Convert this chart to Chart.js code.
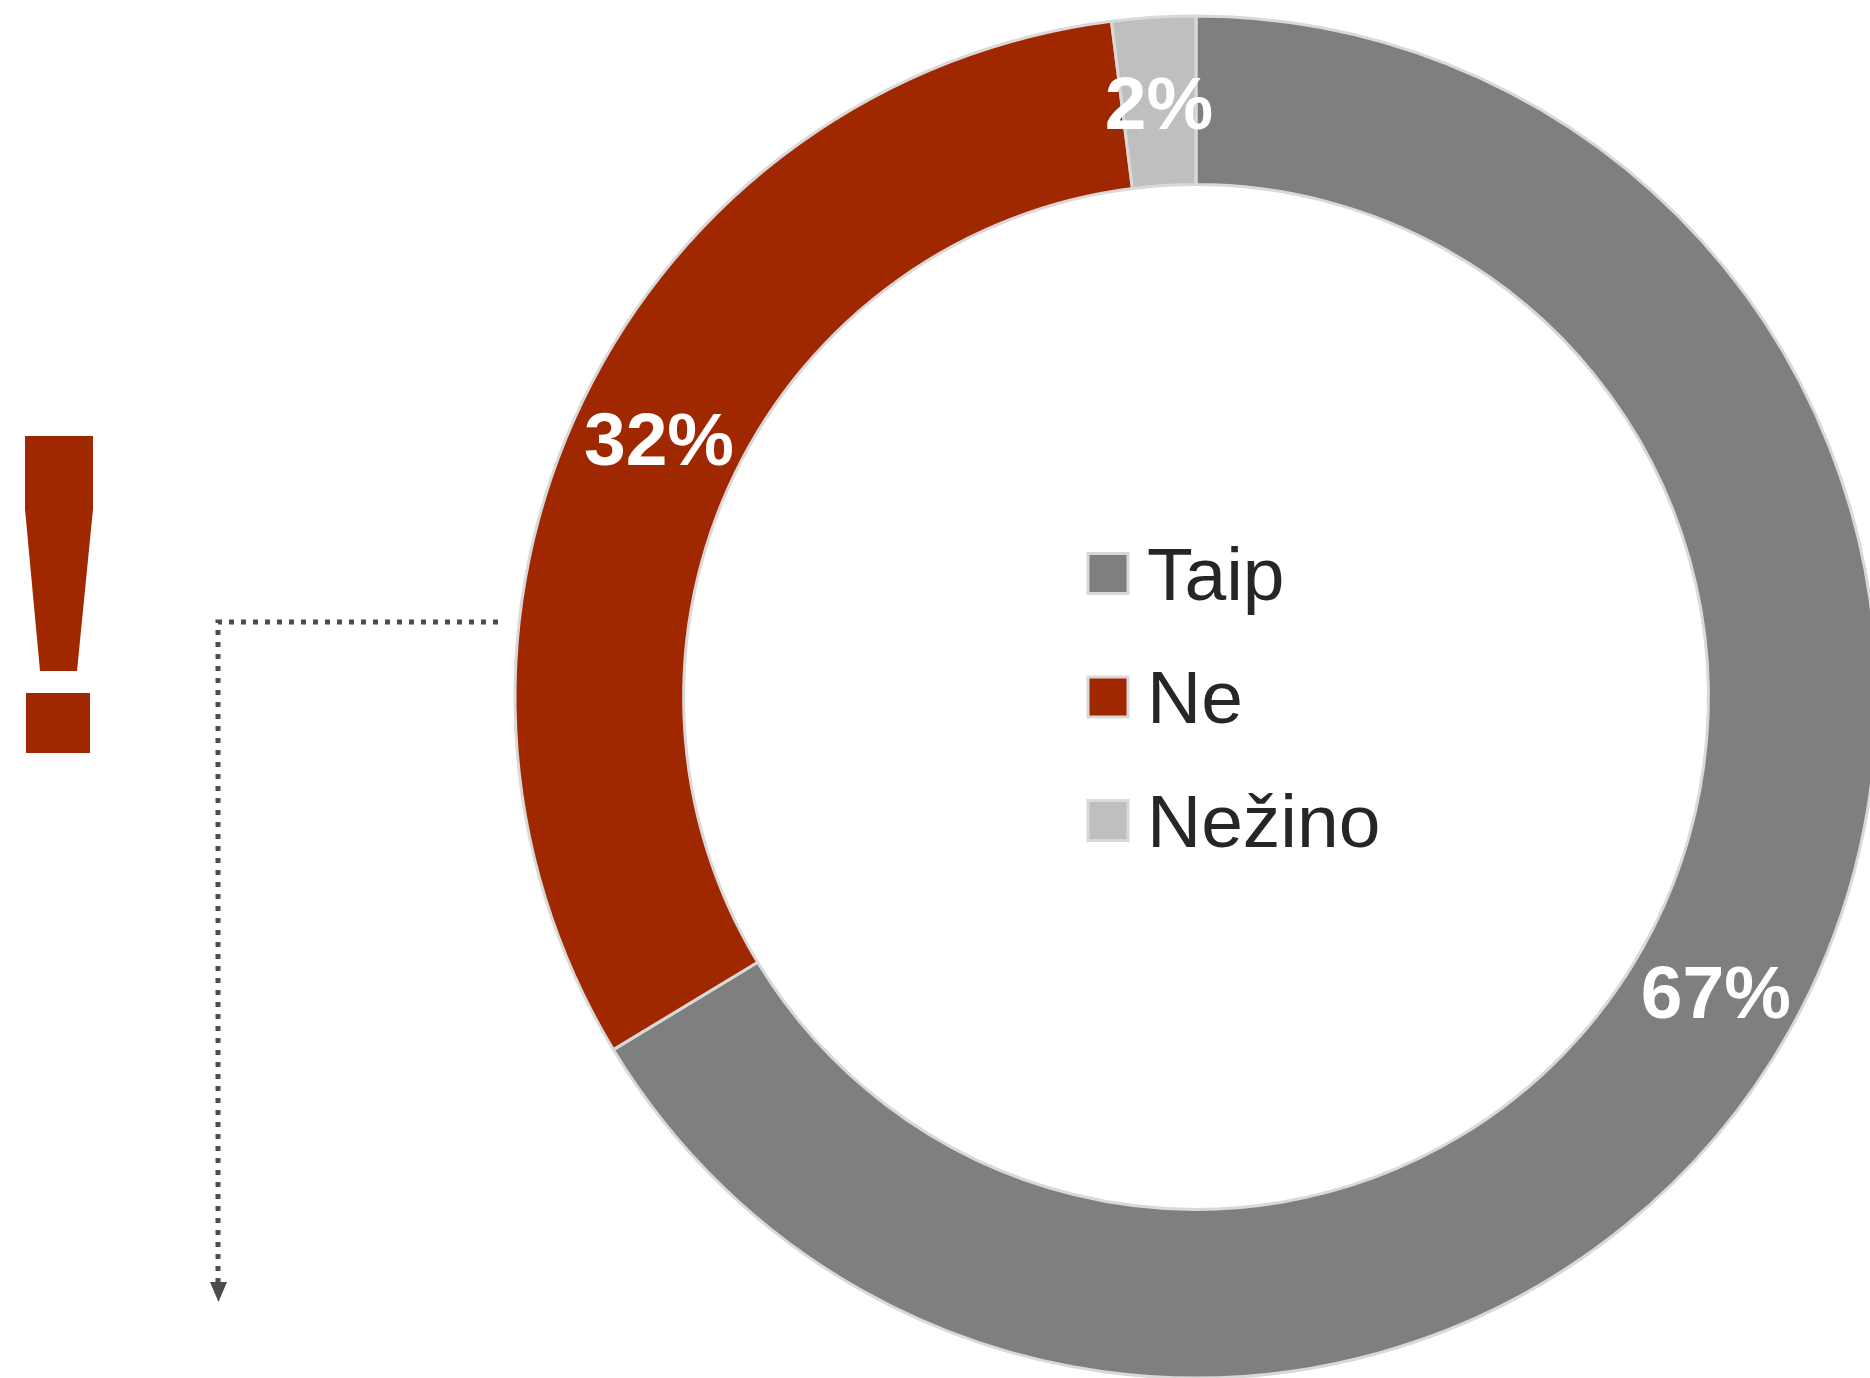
<!DOCTYPE html>
<html>
<head>
<meta charset="utf-8">
<script src="https://cdn.jsdelivr.net/npm/chart.js@4/dist/chart.umd.min.js"></script>
<style>
  html, body { margin: 0; padding: 0; background: #fff; overflow: hidden; }
  #wrap { width: 1900px; height: 1400px; }
</style>
</head>
<body>
<div id="wrap"><canvas id="chartAnswers" width="1900" height="1400"></canvas></div>
<script>
// data
const labels = ['Taip', 'Ne', 'Nežino'];
const values = [67, 32, 2];
const colors = ['#7f7f7f', '#a02800', '#bfbfbf'];

// percentage labels inside the ring
const sliceLabels = {
  id: 'sliceLabels',
  afterDatasetsDraw(chart) {
    const ctx = chart.ctx;
    const meta = chart.getDatasetMeta(0);
    ctx.save();
    ctx.fillStyle = '#ffffff';
    ctx.font = 'bold 75px "Liberation Sans", Arial, sans-serif';
    ctx.textAlign = 'center';
    ctx.textBaseline = 'middle';
    meta.data.forEach((arc, i) => {
      const p = arc.tooltipPosition();
      ctx.fillText(values[i] + '%', p.x, p.y + 7);
    });
    ctx.restore();
  }
};

// legend in the hole of the donut
const centerLegend = {
  id: 'centerLegend',
  afterDraw(chart) {
    const ctx = chart.ctx;
    const meta = chart.getDatasetMeta(0);
    const cx = meta.data[0].x;
    const cy = meta.data[0].y;
    const gap = 123.5;
    ctx.save();
    ctx.font = '75px "Liberation Sans", Arial, sans-serif';
    ctx.textAlign = 'left';
    ctx.textBaseline = 'alphabetic';
    chart.data.labels.forEach((lab, i) => {
      const y = cy + (i - 1) * gap;
      const bx = cx - 108;
      ctx.fillStyle = chart.data.datasets[0].backgroundColor[i];
      ctx.fillRect(bx, y - 20, 40, 40);
      ctx.strokeStyle = '#d9d9d9';
      ctx.lineWidth = 3;
      ctx.strokeRect(bx, y - 20, 40, 40);
      ctx.fillStyle = '#262626';
      ctx.fillText(lab, cx - 49, y + 26);
    });
    ctx.restore();
  }
};

// the red "!" and the dotted arrow on the left
const leftMarks = {
  id: 'leftMarks',
  afterDraw(chart) {
    const ctx = chart.ctx;
    ctx.save();
    ctx.fillStyle = '#a02800';
    ctx.beginPath();
    ctx.moveTo(25, 436);
    ctx.lineTo(93, 436);
    ctx.lineTo(93, 509);
    ctx.lineTo(77, 671);
    ctx.lineTo(40, 671);
    ctx.lineTo(25, 509);
    ctx.closePath();
    ctx.fill();
    ctx.fillRect(26, 693, 64, 60);

    ctx.strokeStyle = '#4d4d4d';
    ctx.lineWidth = 5;
    ctx.setLineDash([5, 7]);
    ctx.beginPath();
    ctx.moveTo(498, 622);
    ctx.lineTo(218, 622);
    ctx.lineTo(218, 1284);
    ctx.stroke();
    ctx.setLineDash([]);
    ctx.fillStyle = '#4d4d4d';
    ctx.beginPath();
    ctx.moveTo(210, 1282);
    ctx.lineTo(227, 1282);
    ctx.lineTo(218.5, 1302);
    ctx.closePath();
    ctx.fill();
    ctx.restore();
  }
};

new Chart(document.getElementById('chartAnswers'), {
  type: 'doughnut',
  data: {
    labels: labels,
    datasets: [{
      data: values,
      backgroundColor: colors,
      borderColor: '#d9d9d9',
      borderWidth: 3
    }]
  },
  options: {
    responsive: false,
    animation: false,
    radius: 681,
    cutout: 512,
    layout: { padding: { left: 514, right: 22, top: 15, bottom: 21 } },
    plugins: {
      legend: { display: false },
      tooltip: { enabled: false }
    }
  },
  plugins: [sliceLabels, centerLegend, leftMarks]
});
</script>
</body>
</html>
